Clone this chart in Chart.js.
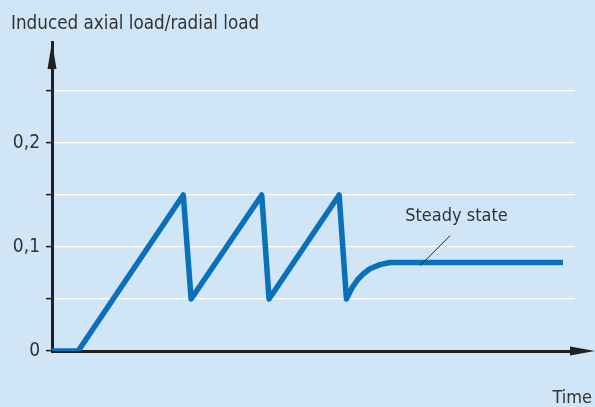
<!DOCTYPE html>
<html>
<head>
<meta charset="utf-8">
<script src="https://cdn.jsdelivr.net/npm/chart.js@4/dist/chart.umd.min.js"></script>
<style>
  html, body { margin: 0; padding: 0; background: #d0e6f6; }
  #wrap { width: 595px; height: 407px; }
</style>
</head>
<body>
<div id="wrap"><canvas id="chart" width="595" height="407"></canvas></div>
<script>
// Time axis (no units shown) and load ratio
const timePoints = [0, 5, 25.1, 26.6, 40.1, 41.5, 54.9, 56.3, 57.4, 58.5, 59.5, 60.8, 62.7, 64.6, 97.7];
const loadRatio  = [0, 0, 0.15, 0.05, 0.15, 0.05, 0.15, 0.05, 0.061, 0.069, 0.074, 0.079, 0.083, 0.085, 0.085];

// y ticks and their labels
const yTicks = [0, 0.05, 0.1, 0.15, 0.2, 0.25];
const yTickLabels = { 0: '0', 0.1: '0,1', 0.2: '0,2' };

// annotation
const steadyLabel = 'Steady state';
const steadyAt = { x: 70.4, y: 0.085 };
const yAxisTitle = 'Induced axial load/radial load';
const xAxisTitle = 'Time';

const colors = {
    bg: '#d0e6f6',
    line: '#0a70ba',
    axis: '#231f20',
    grid: '#ffffff',
    text: '#333333'
};
const fontFamily = '"DejaVu Sans Condensed", "DejaVu Sans", sans-serif';

// Background, arrows and the free texts
const decorations = {
    id: 'decorations',
    beforeDraw(chart) {
        const { ctx } = chart;
        ctx.save();
        ctx.fillStyle = colors.bg;
        ctx.fillRect(0, 0, chart.width, chart.height);
        ctx.restore();
    },
    afterDraw(chart) {
        const { ctx, chartArea } = chart;
        const x0 = chartArea.left;
        const y0 = chartArea.bottom;
        ctx.save();

        // x axis extension + arrow
        ctx.strokeStyle = colors.axis;
        ctx.lineWidth = 3;
        ctx.beginPath();
        ctx.moveTo(chartArea.right, y0);
        ctx.lineTo(575, y0);
        ctx.stroke();
        ctx.fillStyle = colors.axis;
        ctx.beginPath();
        ctx.moveTo(595, y0);
        ctx.lineTo(570, y0 - 4.5);
        ctx.lineTo(570, y0 + 4.5);
        ctx.closePath();
        ctx.fill();

        // y axis arrow
        ctx.beginPath();
        ctx.moveTo(x0, 42);
        ctx.lineTo(x0 - 4.5, 69);
        ctx.lineTo(x0 + 4.5, 69);
        ctx.closePath();
        ctx.fill();

        // texts
        ctx.fillStyle = colors.text;
        ctx.textBaseline = 'alphabetic';
        ctx.textAlign = 'left';
        ctx.font = '18.7px ' + fontFamily;
        ctx.fillText(yAxisTitle, 11, 29);
        ctx.font = '18px ' + fontFamily;
        ctx.textAlign = 'right';
        ctx.fillText(xAxisTitle, 592, 403);

        // steady state leader
        const px = chart.scales.x.getPixelForValue(steadyAt.x);
        const py = chart.scales.y.getPixelForValue(steadyAt.y);
        ctx.strokeStyle = '#222';
        ctx.lineWidth = 1;
        ctx.beginPath();
        ctx.moveTo(px, py + 3);
        ctx.lineTo(px + 30, py - 27);
        ctx.stroke();
        ctx.textAlign = 'left';
        ctx.fillText(steadyLabel, px - 15, py - 42);

        ctx.restore();
    }
};

new Chart(document.getElementById('chart'), {
    type: 'line',
    data: {
        datasets: [{
            data: timePoints.map((t, i) => ({ x: t, y: loadRatio[i] })),
            borderColor: colors.line,
            borderWidth: 5.5,
            borderJoinStyle: 'round',
            tension: 0,
            pointRadius: 0,
            fill: false
        }]
    },
    options: {
        responsive: false,
        animation: false,
        events: [],
        layout: { padding: { top: 42, right: 20, bottom: 56, left: 0 } },
        plugins: {
            legend: { display: false },
            tooltip: { enabled: false }
        },
        scales: {
            x: {
                type: 'linear',
                min: 0,
                max: 100,
                ticks: { display: false },
                grid: { display: false },
                border: { display: true, color: colors.axis, width: 3 },
                afterFit(scale) { scale.height = 0; }
            },
            y: {
                type: 'linear',
                min: 0,
                max: 0.297,
                afterBuildTicks(scale) {
                    scale.ticks = yTicks.map(v => ({ value: v }));
                },
                afterFit(scale) { scale.width = 52; },
                ticks: {
                    color: colors.text,
                    padding: 6,
                    font: { family: fontFamily, size: 19 },
                    callback: (value) => yTickLabels[value] !== undefined ? yTickLabels[value] : ''
                },
                grid: {
                    color: (c) => c.tick && c.tick.value > 0 ? colors.grid : 'rgba(0,0,0,0)',
                    tickColor: colors.axis,
                    tickLength: 6,
                    lineWidth: 1.2,
                    tickWidth: 1.5,
                    drawOnChartArea: true
                },
                border: { display: true, color: colors.axis, width: 3 }
            }
        }
    },
    plugins: [decorations]
});
</script>
</body>
</html>
